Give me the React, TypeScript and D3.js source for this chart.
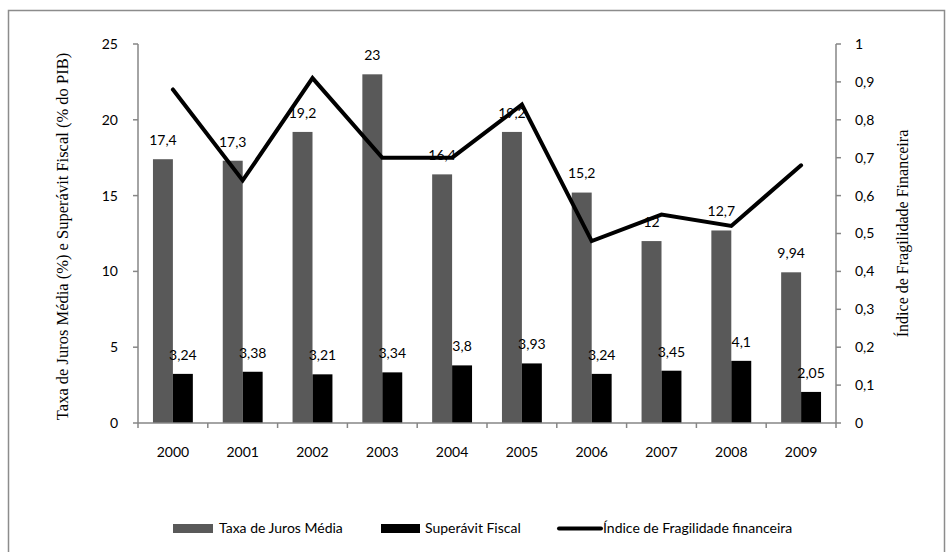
import React from "react";
import * as d3 from "d3";

const years = ["2000", "2001", "2002", "2003", "2004", "2005", "2006", "2007", "2008", "2009"];
const taxaJuros = [17.4, 17.3, 19.2, 23, 16.4, 19.2, 15.2, 12, 12.7, 9.94];
const superavit = [3.24, 3.38, 3.21, 3.34, 3.8, 3.93, 3.24, 3.45, 4.1, 2.05];
const fragilidade = [0.88, 0.64, 0.91, 0.7, 0.7, 0.84, 0.48, 0.55, 0.52, 0.68];
const leftTicks = [0, 5, 10, 15, 20, 25];
const rightTicks = [0, 0.1, 0.2, 0.3, 0.4, 0.5, 0.6, 0.7, 0.8, 0.9, 1];
const seriesNames = ["Taxa de Juros Média", "Superávit Fiscal", "Índice de Fragilidade financeira"];
const leftTitle = "Taxa de Juros Média (%) e Superávit Fiscal (% do PIB)";
const rightTitle = "Índice de Fragilidade Financeira";

const fmt = (v: number) => String(+v.toFixed(2)).replace(".", ",");

export default function App() {
  const W = 950, H = 552;
  const L = 138, R = 836, T = 44, B = 423;
  const sans = "Lato, 'Open Sans', sans-serif";
  const serif = "'Liberation Serif', 'DejaVu Serif', serif";
  const axisColor = "#868686";

  const x = d3.scaleBand<string>().domain(years).range([L, R]).padding(0);
  const sub = d3.scaleBand<string>().domain(["t", "s"]).range([0, x.bandwidth()]).paddingInner(0).paddingOuter(0.75);
  const yL = d3.scaleLinear().domain([0, 25]).range([B, T]);
  const yR = d3.scaleLinear().domain([0, 1]).range([B, T]);
  const line = d3.line<number>()
    .x((_, i) => (x(years[i]) as number) + x.bandwidth() / 2)
    .y((d) => yR(d));

  const bw = sub.bandwidth();

  return (
    <svg width={W} height={H} style={{ position: "absolute", left: 0, top: 0, background: "#fff" }}>
      <rect x={8.5} y={10.5} width={936} height={560} fill="#fff" stroke="#8c8c8c" strokeWidth={1.5} />

      {/* bars */}
      {years.map((yr, i) => {
        const x0 = x(yr) as number;
        const xt = x0 + (sub("t") as number);
        const xs = x0 + (sub("s") as number);
        return (
          <g key={yr}>
            <rect x={xt} y={yL(taxaJuros[i])} width={bw} height={B - yL(taxaJuros[i])} fill="#595959" />
            <rect x={xs} y={yL(superavit[i])} width={bw} height={B - yL(superavit[i])} fill="#000" />
          </g>
        );
      })}

      {/* axes */}
      <line x1={L} x2={L} y1={T} y2={B} stroke={axisColor} strokeWidth={1.5} />
      <line x1={R} x2={R} y1={T} y2={B} stroke={axisColor} strokeWidth={1.5} />
      <line x1={L} x2={R} y1={B} y2={B} stroke={axisColor} strokeWidth={1.5} />
      {leftTicks.map((t) => (
        <g key={"l" + t}>
          <line x1={L - 5} x2={L} y1={yL(t)} y2={yL(t)} stroke={axisColor} strokeWidth={1.5} />
          <text x={118} y={yL(t)} dy="0.35em" textAnchor="end" fontFamily={sans} fontSize={14} fill="#000">{fmt(t)}</text>
        </g>
      ))}
      {rightTicks.map((t) => (
        <g key={"r" + t}>
          <line x1={R} x2={R + 5} y1={yR(t)} y2={yR(t)} stroke={axisColor} strokeWidth={1.5} />
          <text x={855} y={yR(t)} dy="0.35em" textAnchor="start" fontFamily={sans} fontSize={14} fill="#000">{fmt(t)}</text>
        </g>
      ))}
      {[...years.map((yr) => x(yr) as number), R].map((p, i) => (
        <line key={"xt" + i} x1={p} x2={p} y1={B} y2={B + 5} stroke={axisColor} strokeWidth={1.5} />
      ))}
      {years.map((yr) => (
        <text key={"xl" + yr} x={(x(yr) as number) + x.bandwidth() / 2} y={452} dy="0.35em" textAnchor="middle" fontFamily={sans} fontSize={14} fill="#000">{yr}</text>
      ))}

      {/* line */}
      <path d={line(fragilidade) || ""} fill="none" stroke="#000" strokeWidth={4} strokeLinejoin="miter" strokeLinecap="round" />

      {/* bar labels */}
      {years.map((yr, i) => {
        const x0 = x(yr) as number;
        const xt = x0 + (sub("t") as number) + bw / 2;
        const xs = x0 + (sub("s") as number) + bw / 2;
        return (
          <g key={"lab" + yr} fontFamily={sans} fontSize={14} fill="#000" textAnchor="middle">
            <text x={xt} y={yL(taxaJuros[i]) - 19} dy="0.35em">{fmt(taxaJuros[i])}</text>
            <text x={xs} y={yL(superavit[i]) - 19} dy="0.35em">{fmt(superavit[i])}</text>
          </g>
        );
      })}

      {/* axis titles */}
      <text transform={`translate(62,${(T + B) / 2 + 3}) rotate(-90)`} dy="0.35em" textAnchor="middle" fontFamily={serif} fontSize={16.5} fill="#000">{leftTitle}</text>
      <text transform={`translate(902,${(T + B) / 2}) rotate(-90)`} dy="0.35em" textAnchor="middle" fontFamily={serif} fontSize={16} fill="#000">{rightTitle}</text>

      {/* legend */}
      <g fontFamily={sans} fontSize={14} fill="#000">
        <rect x={173} y={524} width={40} height={9} fill="#595959" />
        <text x={219} y={528.5} dy="0.35em">{seriesNames[0]}</text>
        <rect x={381} y={524} width={39} height={9} fill="#000" />
        <text x={425} y={528.5} dy="0.35em">{seriesNames[1]}</text>
        <line x1={559} x2={601} y1={528.5} y2={528.5} stroke="#000" strokeWidth={4} strokeLinecap="round" />
        <text x={603} y={528.5} dy="0.35em">{seriesNames[2]}</text>
      </g>
    </svg>
  );
}
